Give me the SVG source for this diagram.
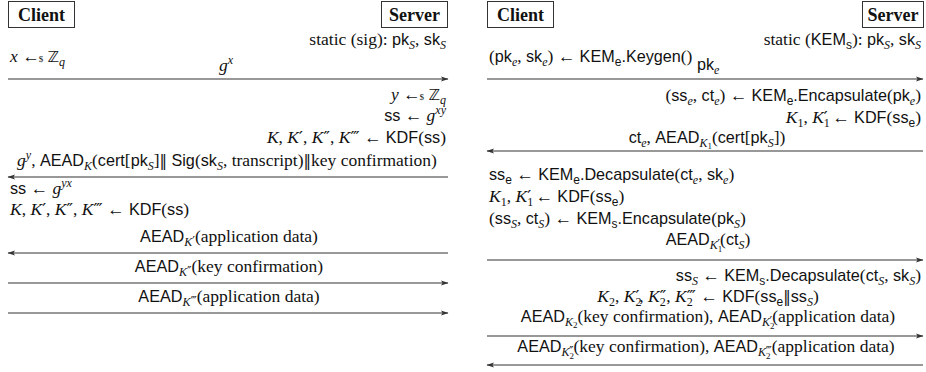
<svg xmlns="http://www.w3.org/2000/svg" width="926" height="372" viewBox="0 0 926 372">
<style>
text{font-family:"Liberation Serif","DejaVu Serif",serif;font-size:17.5px;fill:#111}
.sf{font-family:"Liberation Sans","DejaVu Sans",sans-serif;font-size:16.2px}
.it{font-style:italic}
.pr{font-family:"DejaVu Serif",serif;font-style:normal}
.dv{font-family:"DejaVu Sans",sans-serif;font-size:15px}
.s{font-size:12px}
.t{font-size:9px}
.bb{font-family:"DejaVu Sans",sans-serif;font-size:15.5px;font-style:normal}
.box{fill:#fff;stroke:#333;stroke-width:1}
.lbl{font-family:"Liberation Serif","DejaVu Serif",serif;font-weight:bold;font-size:18px}
.msg{stroke:#333;stroke-width:1.2;fill:none}
</style>
<defs>
<marker id="ah" markerWidth="8" markerHeight="6" refX="7" refY="3" orient="auto" markerUnits="userSpaceOnUse">
<path d="M0,0.4 L7.5,3 L0,5.6 L1.6,3 z" fill="#333"/>
</marker>
</defs>

<!-- left protocol: signed Diffie-Hellman -->
<g id="dh-client"><rect class="box" x="8.5" y="1.5" width="66" height="26"/><text class="lbl" x="41.5" y="20.5" text-anchor="middle">Client</text></g>
<g id="dh-server"><rect class="box" x="381.5" y="1.5" width="66" height="26"/><text class="lbl" x="414.5" y="20.5" text-anchor="middle">Server</text></g>

<!-- right protocol: KEM based -->
<g id="kem-client"><rect class="box" x="487.5" y="1.5" width="66" height="26"/><text class="lbl" x="520.5" y="20.5" text-anchor="middle">Client</text></g>
<g id="kem-server"><rect class="box" x="862.5" y="1.5" width="61" height="26"/><text class="lbl" x="893" y="20.5" text-anchor="middle">Server</text></g>

<g id="connectors">
<line class="msg" x1="8" y1="79" x2="448" y2="79" marker-end="url(#ah)"/>
<line class="msg" x1="448" y1="177" x2="8" y2="177" marker-end="url(#ah)"/>
<line class="msg" x1="448" y1="253" x2="8" y2="253" marker-end="url(#ah)"/>
<line class="msg" x1="8" y1="283" x2="448" y2="283" marker-end="url(#ah)"/>
<line class="msg" x1="8" y1="313" x2="448" y2="313" marker-end="url(#ah)"/>

<line class="msg" x1="487" y1="79" x2="923" y2="79" marker-end="url(#ah)"/>
<line class="msg" x1="923" y1="151" x2="487" y2="151" marker-end="url(#ah)"/>
<line class="msg" x1="487" y1="260" x2="923" y2="260" marker-end="url(#ah)"/>
<line class="msg" x1="487" y1="336" x2="923" y2="336" marker-end="url(#ah)"/>
<line class="msg" x1="923" y1="365" x2="487" y2="365" marker-end="url(#ah)"/>
</g>

<g id="dh-labels">
<text x="446" y="45" text-anchor="end">static (sig): <tspan class="sf">pk</tspan><tspan class="it s" dy="4">S</tspan><tspan dy="-4">, </tspan><tspan class="sf">sk</tspan><tspan class="it s" dy="4">S</tspan></text>
<text x="10" y="62"><tspan class="it">x</tspan> ←<tspan class="t" dx="-1">$</tspan> <tspan class="bb">ℤ</tspan><tspan class="it s" dy="4">q</tspan></text>
<text x="219" y="71"><tspan class="it">g</tspan><tspan class="it s" dy="-7">x</tspan></text>
<text x="446" y="100" text-anchor="end"><tspan class="it">y</tspan> ←<tspan class="t" dx="-1">$</tspan> <tspan class="bb">ℤ</tspan><tspan class="it s" dy="4">q</tspan></text>
<text x="446" y="121" text-anchor="end"><tspan class="sf">ss</tspan> ← <tspan class="it">g</tspan><tspan class="it s" dy="-7">xy</tspan></text>
<text x="446" y="143" text-anchor="end"><tspan class="it">K</tspan>, <tspan class="it">K</tspan><tspan class="pr">′</tspan>, <tspan class="it">K</tspan><tspan class="pr">″</tspan>, <tspan class="it">K</tspan><tspan class="pr">‴</tspan> ← <tspan class="sf">KDF</tspan>(<tspan class="sf">ss</tspan>)</text>
<text x="227" y="166" text-anchor="middle"><tspan class="it">g</tspan><tspan class="it s" dy="-7">y</tspan><tspan dy="7">, </tspan><tspan class="sf">AEAD</tspan><tspan class="it s" dy="4">K</tspan><tspan dy="-4">(</tspan><tspan class="sf">cert</tspan>[<tspan class="sf">pk</tspan><tspan class="it s" dy="4">S</tspan><tspan dy="-4">]</tspan><tspan class="dv">‖</tspan> <tspan class="sf">Sig</tspan>(<tspan class="sf">sk</tspan><tspan class="it s" dy="4">S</tspan><tspan dy="-4">, transcript)</tspan><tspan class="dv">‖</tspan>key confirmation)</text>
<text x="10" y="194"><tspan class="sf">ss</tspan> ← <tspan class="it">g</tspan><tspan class="it s" dy="-7">yx</tspan></text>
<text x="10" y="215"><tspan class="it">K</tspan>, <tspan class="it">K</tspan><tspan class="pr">′</tspan>, <tspan class="it">K</tspan><tspan class="pr">″</tspan>, <tspan class="it">K</tspan><tspan class="pr">‴</tspan> ← <tspan class="sf">KDF</tspan>(<tspan class="sf">ss</tspan>)</text>
<text x="229" y="242" text-anchor="middle"><tspan class="sf">AEAD</tspan><tspan class="it s" dy="4">K</tspan><tspan class="pr s">′</tspan><tspan dy="-4">(application data)</tspan></text>
<text x="229" y="272" text-anchor="middle"><tspan class="sf">AEAD</tspan><tspan class="it s" dy="4">K</tspan><tspan class="pr s">″</tspan><tspan dy="-4">(key confirmation)</tspan></text>
<text x="229" y="302" text-anchor="middle"><tspan class="sf">AEAD</tspan><tspan class="it s" dy="4">K</tspan><tspan class="pr s">‴</tspan><tspan dy="-4">(application data)</tspan></text>
</g>

<g id="kem-labels">
<text x="921" y="45" text-anchor="end">static (<tspan class="sf">KEM</tspan><tspan class="sf s" dy="4">s</tspan><tspan dy="-4">): </tspan><tspan class="sf">pk</tspan><tspan class="it s" dy="4">S</tspan><tspan dy="-4">, </tspan><tspan class="sf">sk</tspan><tspan class="it s" dy="4">S</tspan></text>
<text x="489" y="62">(<tspan class="sf">pk</tspan><tspan class="it s" dy="4">e</tspan><tspan dy="-4">, </tspan><tspan class="sf">sk</tspan><tspan class="it s" dy="4">e</tspan><tspan dy="-4">) ← </tspan><tspan class="sf">KEM</tspan><tspan class="sf s" dy="4">e</tspan><tspan class="sf" dy="-4">.Keygen</tspan>()</text>
<text x="697" y="70"><tspan class="sf">pk</tspan><tspan class="it s" dy="4">e</tspan></text>
<text x="921" y="101" text-anchor="end">(<tspan class="sf">ss</tspan><tspan class="it s" dy="4">e</tspan><tspan dy="-4">, </tspan><tspan class="sf">ct</tspan><tspan class="it s" dy="4">e</tspan><tspan dy="-4">) ← </tspan><tspan class="sf">KEM</tspan><tspan class="sf s" dy="4">e</tspan><tspan class="sf" dy="-4">.Encapsulate</tspan>(<tspan class="sf">pk</tspan><tspan class="it s" dy="4">e</tspan><tspan dy="-4">)</tspan></text>
<text x="921" y="123" text-anchor="end"><tspan class="it">K</tspan><tspan class="s" dy="4">1</tspan><tspan dy="-4">, </tspan><tspan class="it">K</tspan><tspan class="s" dy="4">1</tspan><tspan class="pr" dx="-6" dy="-4">′</tspan> ← <tspan class="sf">KDF</tspan>(<tspan class="sf">ss</tspan><tspan class="sf s" dy="4">e</tspan><tspan dy="-4">)</tspan></text>
<text x="707" y="143" text-anchor="middle"><tspan class="sf">ct</tspan><tspan class="it s" dy="4">e</tspan><tspan dy="-4">, </tspan><tspan class="sf">AEAD</tspan><tspan class="it s" dy="4">K</tspan><tspan class="t" dy="2">1</tspan><tspan dy="-6">(</tspan><tspan class="sf">cert</tspan>[<tspan class="sf">pk</tspan><tspan class="it s" dy="4">S</tspan><tspan dy="-4">])</tspan></text>
<text x="489" y="180"><tspan class="sf">ss</tspan><tspan class="sf s" dy="4">e</tspan><tspan dy="-4"> ← </tspan><tspan class="sf">KEM</tspan><tspan class="sf s" dy="4">e</tspan><tspan class="sf" dy="-4">.Decapsulate</tspan>(<tspan class="sf">ct</tspan><tspan class="it s" dy="4">e</tspan><tspan dy="-4">, </tspan><tspan class="sf">sk</tspan><tspan class="it s" dy="4">e</tspan><tspan dy="-4">)</tspan></text>
<text x="489" y="202"><tspan class="it">K</tspan><tspan class="s" dy="4">1</tspan><tspan dy="-4">, </tspan><tspan class="it">K</tspan><tspan class="s" dy="4">1</tspan><tspan class="pr" dx="-6" dy="-4">′</tspan> ← <tspan class="sf">KDF</tspan>(<tspan class="sf">ss</tspan><tspan class="sf s" dy="4">e</tspan><tspan dy="-4">)</tspan></text>
<text x="489" y="224">(<tspan class="sf">ss</tspan><tspan class="it s" dy="4">S</tspan><tspan dy="-4">, </tspan><tspan class="sf">ct</tspan><tspan class="it s" dy="4">S</tspan><tspan dy="-4">) ← </tspan><tspan class="sf">KEM</tspan><tspan class="sf s" dy="4">s</tspan><tspan class="sf" dy="-4">.Encapsulate</tspan>(<tspan class="sf">pk</tspan><tspan class="it s" dy="4">S</tspan><tspan dy="-4">)</tspan></text>
<text x="708" y="245" text-anchor="middle"><tspan class="sf">AEAD</tspan><tspan class="it s" dy="4">K</tspan><tspan class="t" dy="3">1</tspan><tspan class="pr s" dx="-5" dy="-3">′</tspan><tspan dy="-4">(</tspan><tspan class="sf">ct</tspan><tspan class="it s" dy="4">S</tspan><tspan dy="-4">)</tspan></text>
<text x="921" y="281" text-anchor="end"><tspan class="sf">ss</tspan><tspan class="it s" dy="4">S</tspan><tspan dy="-4"> ← </tspan><tspan class="sf">KEM</tspan><tspan class="sf s" dy="4">s</tspan><tspan class="sf" dy="-4">.Decapsulate</tspan>(<tspan class="sf">ct</tspan><tspan class="it s" dy="4">S</tspan><tspan dy="-4">, </tspan><tspan class="sf">sk</tspan><tspan class="it s" dy="4">S</tspan><tspan dy="-4">)</tspan></text>
<text x="708" y="302" text-anchor="middle"><tspan class="it">K</tspan><tspan class="s" dy="4">2</tspan><tspan dy="-4">, </tspan><tspan class="it">K</tspan><tspan class="s" dy="4">2</tspan><tspan class="pr" dx="-6" dy="-4">′</tspan>, <tspan class="it">K</tspan><tspan class="s" dy="4">2</tspan><tspan class="pr" dx="-6" dy="-4">″</tspan>, <tspan class="it">K</tspan><tspan class="s" dy="4">2</tspan><tspan class="pr" dx="-6" dy="-4">‴</tspan> ← <tspan class="sf">KDF</tspan>(<tspan class="sf">ss</tspan><tspan class="sf s" dy="4">e</tspan><tspan class="dv" dy="-4">‖</tspan><tspan class="sf">ss</tspan><tspan class="it s" dy="4">S</tspan><tspan dy="-4">)</tspan></text>
<text x="708" y="322" text-anchor="middle"><tspan class="sf">AEAD</tspan><tspan class="it s" dy="4">K</tspan><tspan class="t" dy="2">2</tspan><tspan dy="-6">(key confirmation), </tspan><tspan class="sf">AEAD</tspan><tspan class="it s" dy="4">K</tspan><tspan class="t" dy="3">2</tspan><tspan class="pr s" dx="-5" dy="-3">′</tspan><tspan dy="-4">(application data)</tspan></text>
<text x="706" y="352" text-anchor="middle"><tspan class="sf">AEAD</tspan><tspan class="it s" dy="4">K</tspan><tspan class="t" dy="3">2</tspan><tspan class="pr s" dx="-5" dy="-3">″</tspan><tspan dy="-4">(key confirmation), </tspan><tspan class="sf">AEAD</tspan><tspan class="it s" dy="4">K</tspan><tspan class="t" dy="3">2</tspan><tspan class="pr s" dx="-5" dy="-3">‴</tspan><tspan dy="-4">(application data)</tspan></text>
</g>
</svg>
